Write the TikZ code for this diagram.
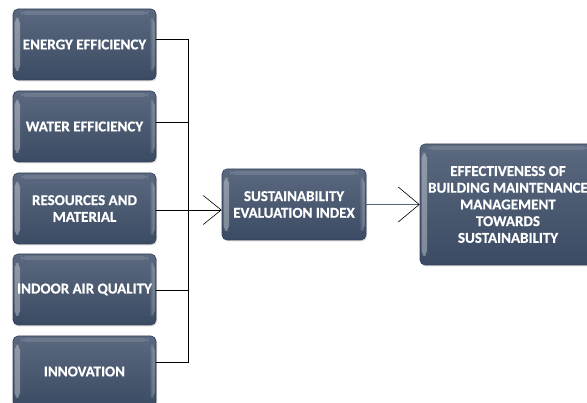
\documentclass[tikz,border=0pt]{standalone}
\usepackage{fontspec}
\setmainfont{Carlito}[BoldFeatures={FakeBold=0.6}]
\usetikzlibrary{arrows.meta,shadows,fadings}
\definecolor{slatetop}{HTML}{5A697F}
\definecolor{slatebot}{HTML}{3B4B63}
\definecolor{slateedge}{HTML}{34425A}
\definecolor{linkgray}{HTML}{56657C}
\begin{document}
\begin{tikzpicture}[x=1pt,y=-1pt,
  factor/.style={rounded corners=5pt, inner sep=0pt, align=center,
    top color=slatetop, bottom color=slatebot, draw=slateedge, line width=0.6pt,
    text=white, font=\fontsize{15}{16.7}\selectfont\bfseries,
    drop shadow={shadow xshift=1pt, shadow yshift=-1.5pt, opacity=0.25},
    path picture={
      \fill[white, fill opacity=0.35, path fading=east]
        ([xshift=1.5pt,yshift=-9pt]path picture bounding box.north west)
        rectangle ([xshift=7pt,yshift=9pt]path picture bounding box.south west);
      \fill[white, fill opacity=0.35, path fading=west]
        ([xshift=-7pt,yshift=-9pt]path picture bounding box.north east)
        rectangle ([xshift=-1.5pt,yshift=9pt]path picture bounding box.south east);
      \fill[white, fill opacity=0.12]
        ([xshift=8pt,yshift=-2pt]path picture bounding box.north west)
        rectangle ([xshift=-8pt,yshift=-6pt]path picture bounding box.north east);
    }},
  small/.style={factor, minimum width=143pt, minimum height=71pt},
  conn/.style={draw=black, line width=0.7pt},
  tip/.style={-{Straight Barb[length=18pt,width=29pt,line width=0.6pt]}}
]
\useasboundingbox[fill=white] (0,0) rectangle (587,403);

% the five sustainability criteria
\node[small] (b1) at (84.5,44.5)  {ENERGY EFFICIENCY};
\node[small] (b2) at (84.5,126.5) {WATER EFFICIENCY};
\node[small] (b3) at (84.5,208.5) {RESOURCES AND\\MATERIAL};
\node[small] (b4) at (84.5,289.5) {INDOOR AIR QUALITY};
\node[small] (b5) at (84.5,371.5) {INNOVATION};

% index and outcome
\node[factor, minimum width=144pt, minimum height=71pt] (sei) at (294,204.5)
  {SUSTAINABILITY\\EVALUATION INDEX};
\node[factor, minimum width=176pt, minimum height=121pt] (ebm) at (508,204.5)
  {EFFECTIVENESS OF\\BUILDING MAINTENANCE\\MANAGEMENT\\TOWARDS\\SUSTAINABILITY};

% collecting bracket
\coordinate (jtop) at (188,39);
\draw[conn] ([yshift=5.5pt]b1.east) -- (jtop);
\draw[conn] ([yshift=4.5pt]b2.east) -| (jtop);
\draw[conn] ([yshift=-0.5pt]b4.east) -| (jtop);
\draw[conn] ([yshift=9.5pt]b5.east) -| (jtop);

% arrows
\draw[conn, tip] ([yshift=-1.5pt]b3.east) -- ([yshift=-5.5pt]sei.west);
\draw[draw=linkgray, line width=1.3pt,
  -{Straight Barb[length=21pt,width=35pt,line width=0.6pt,color=black]}]
  (sei.east) -- (ebm.west);
\end{tikzpicture}
\end{document}
